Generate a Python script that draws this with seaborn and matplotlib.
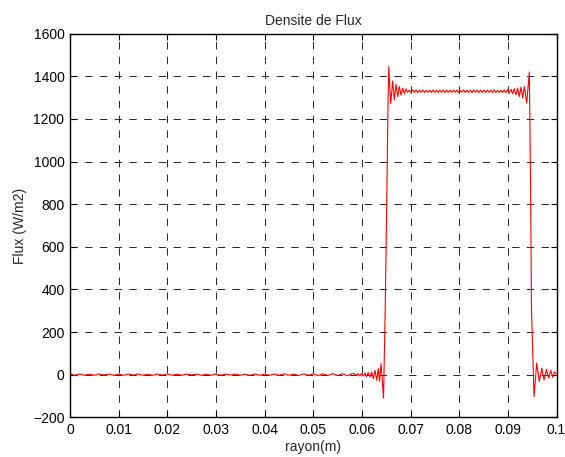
import numpy as np
import pandas as pd
import matplotlib
matplotlib.use("Agg")
import matplotlib.pyplot as plt
import seaborn as sns

# --- donnees ---
# palier bas (0 -> 0.058, pas de 0.001)
rayon_bas = np.arange(0, 0.0585, 0.001)
flux_bas = [4, -3, 3, -3, 2, -3, 3, -2, 3, -3,
            2, -3, 3, -2, 3, -3, 2, -3, 3, -2,
            3, -3, 2, -3, 3, -2, 3, -3, 2, -3,
            3, -3, 3, -2, 3, -3, 2, -3, 3, -3,
            3, -3, 3, -3, 4, -3, 3, -4, 4, -3,
            4, -4, 4, -4, 5, -4, 5, -5, 5]

# oscillations avant la montee + front montant
rayon_montee = [0.0585, 0.05885, 0.0592, 0.05955, 0.0599, 0.06025, 0.0606, 0.06095,
                0.0613, 0.06165, 0.0620, 0.06234, 0.0627, 0.06304, 0.06337, 0.06362,
                0.06393, 0.06444, 0.06478, 0.0651, 0.06535, 0.06551]
flux_montee = [4, -5, 5, -6, 6, -7, 8, -9,
               10, -11, 13, -19, 20, -26, 28, -31,
               52, -110, 300, 800, 1250, 1446]

# ondulations apres le depassement
rayon_haut1 = [0.06592, 0.06633, 0.06666, 0.06701, 0.06736, 0.06769, 0.06804,
               0.06839, 0.06871, 0.06906]
flux_haut1 = [1272, 1378, 1290, 1362, 1304, 1352, 1312, 1345, 1318, 1341]

# palier haut (0.0694 -> 0.0889)
flux_palier = [1325, 1335, 1324, 1336, 1325, 1335, 1324, 1335, 1325, 1336,
               1324, 1335, 1325, 1335, 1324, 1336, 1325, 1335, 1324, 1335,
               1325, 1336, 1324, 1335, 1325, 1335, 1324, 1336, 1325, 1335,
               1324, 1335, 1325, 1336, 1324, 1335, 1325, 1335, 1324, 1336,
               1325, 1335, 1324, 1335, 1325, 1336, 1324, 1335, 1325, 1335,
               1324, 1336, 1325, 1335, 1324, 1335, 1324]
rayon_palier = np.linspace(0.0694, 0.0889, len(flux_palier))

# oscillations avant la descente + front descendant + fin
rayon_descente = [0.08922, 0.08957, 0.08992, 0.09027, 0.09062, 0.09097, 0.09132,
                  0.09167, 0.0920, 0.09235, 0.0927, 0.09305, 0.09338, 0.09387,
                  0.09441, 0.09466, 0.09486, 0.09538, 0.09593, 0.09647, 0.09698,
                  0.09743, 0.09794, 0.0984, 0.09881, 0.09922, 0.09959, 0.1]
flux_descente = [1336, 1323, 1338, 1321, 1340, 1318, 1342,
                 1313, 1345, 1305, 1349, 1298, 1352, 1274,
                 1420, 900, 300, -103, 55, -32, 30,
                 -25, 25, -16, 20, -12, 13, 3]

df = pd.DataFrame({
    "rayon": np.concatenate([rayon_bas, rayon_montee, rayon_haut1, rayon_palier, rayon_descente]),
    "flux": np.concatenate([flux_bas, flux_montee, flux_haut1, flux_palier, flux_descente]),
})

xticks = [0, 0.01, 0.02, 0.03, 0.04, 0.05, 0.06, 0.07, 0.08, 0.09, 0.1]
xlabels = ["0", "0.01", "0.02", "0.03", "0.04", "0.05", "0.06", "0.07", "0.08", "0.09", "0.1"]
yticks = [-200, 0, 200, 400, 600, 800, 1000, 1200, 1400, 1600]

# --- figure ---
sns.set_theme(style="white")
plt.rcParams["font.family"] = ["Liberation Sans", "DejaVu Sans"]
plt.rcParams["lines.scale_dashes"] = False

fig = plt.figure(figsize=(5.65, 4.57), dpi=100)
ax = fig.add_axes([0.1239, 0.0869, 0.8611, 0.8394])

sns.lineplot(data=df, x="rayon", y="flux", color="red", lw=0.8,
             sort=False, estimator=None, ax=ax)

ax.set_xlim(0, 0.1)
ax.set_ylim(-200, 1600)
ax.set_xticks(xticks)
ax.set_xticklabels(xlabels)
ax.set_yticks(yticks)
ax.grid(True, color="black", lw=0.6, linestyle=(0, (5.3, 5.3)))
ax.tick_params(direction="in", length=4, width=0.8, labelsize=10, pad=4,
               top=True, right=True, bottom=True, left=True, colors="black")
for s in ax.spines.values():
    s.set_color("black")
    s.set_linewidth(1.0)

ax.set_title("Densite de Flux", fontsize=10, pad=6)
ax.set_xlabel("rayon(m)", fontsize=10, labelpad=2)
ax.set_ylabel("Flux (W/m2)", fontsize=10, labelpad=4)

fig.savefig("out.png", dpi=100)
